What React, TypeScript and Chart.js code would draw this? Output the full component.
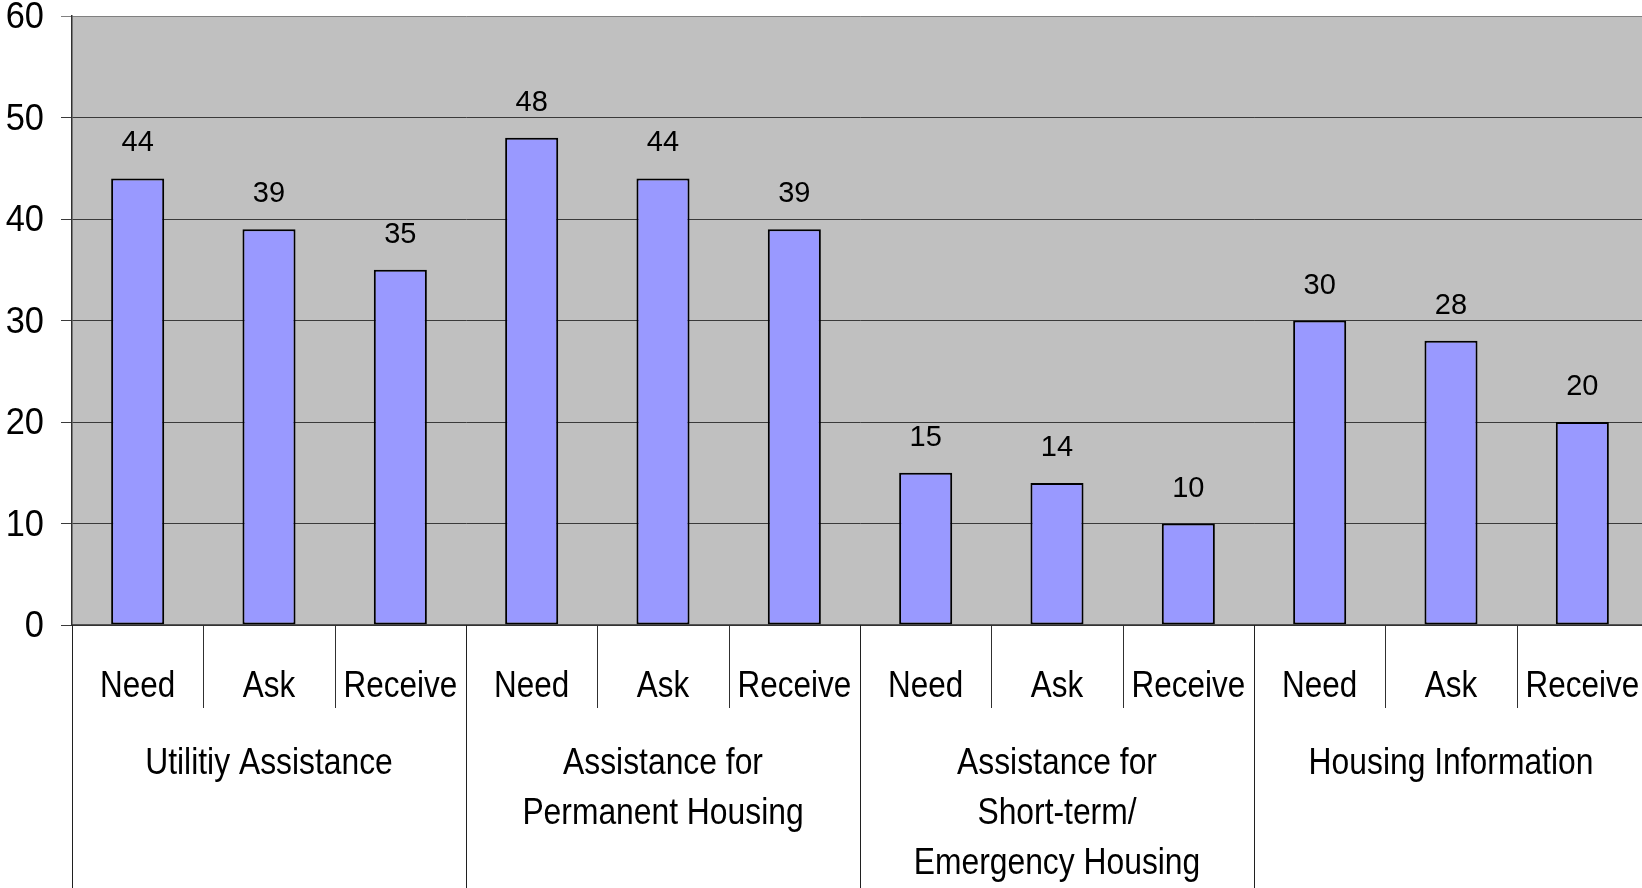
import React, { useEffect, useRef } from "react";
import { Chart, registerables } from "chart.js";

Chart.register(...registerables);

const categories = ["Need", "Ask", "Receive", "Need", "Ask", "Receive", "Need", "Ask", "Receive", "Need", "Ask", "Receive"];
const groups: string[][] = [
  ["Utilitiy Assistance"],
  ["Assistance for", "Permanent Housing"],
  ["Assistance for", "Short-term/", "Emergency Housing"],
  ["Housing Information"],
];
const values = [44, 39, 35, 48, 44, 39, 15, 14, 10, 30, 28, 20];
const yTicks = [0, 10, 20, 30, 40, 50, 60];

const REG = "'Liberation Sans', Arial, sans-serif";

function narrowText(ctx: any, t: string, x: number, y: number, sx: number) {
  ctx.save();
  ctx.translate(x, y);
  ctx.scale(sx, 1);
  ctx.fillText(t, 0, 0);
  ctx.restore();
}

const bgPlugin = {
  id: "plotBg",
  beforeDraw(chart: any) {
    const { ctx, chartArea } = chart;
    ctx.save();
    ctx.fillStyle = "#C0C0C0";
    ctx.fillRect(chartArea.left, chartArea.top, chartArea.right - chartArea.left, chartArea.bottom - chartArea.top);
    ctx.restore();
  },
};

const labelPlugin = {
  id: "labels",
  afterDatasetsDraw(chart: any) {
    const { ctx } = chart;
    const meta = chart.getDatasetMeta(0);
    ctx.save();
    ctx.fillStyle = "#000";
    ctx.font = `29px ${REG}`;
    ctx.textAlign = "center";
    ctx.textBaseline = "alphabetic";
    meta.data.forEach((bar: any, i: number) => {
      narrowText(ctx, String(values[i]), bar.x, bar.y - 27, 1.0);
    });
    ctx.restore();
  },
  afterDraw(chart: any) {
    const { ctx, chartArea } = chart;
    const x = chart.scales.x;
    const y = chart.scales.y;
    const bottom = chartArea.bottom;
    const step = x.getPixelForValue(1) - x.getPixelForValue(0);
    ctx.save();
    // y tick labels
    ctx.fillStyle = "#000";
    ctx.font = `37px ${REG}`;
    ctx.textAlign = "right";
    ctx.textBaseline = "middle";
    yTicks.forEach((v) => {
      narrowText(ctx, String(v), 44, y.getPixelForValue(v) + 2, 0.93);
    });
    // x axis line
    ctx.strokeStyle = "#303030";
    ctx.lineWidth = 1.5;
    ctx.beginPath();
    ctx.moveTo(chartArea.left, bottom);
    ctx.lineTo(chartArea.right, bottom);
    ctx.stroke();
    // separators
    ctx.lineWidth = 1;
    for (let i = 0; i <= categories.length; i++) {
      const bx = Math.round(x.getPixelForValue(0) - step / 2 + i * step) + 0.5;
      ctx.strokeStyle = i % 3 === 0 ? "#202020" : "#303030";
      ctx.beginPath();
      ctx.moveTo(bx, bottom);
      ctx.lineTo(bx, i % 3 === 0 ? chart.height : bottom + 83);
      ctx.stroke();
    }
    // category labels
    ctx.textAlign = "center";
    ctx.textBaseline = "alphabetic";
    ctx.font = `37px ${REG}`;
    categories.forEach((c, i) => {
      narrowText(ctx, c, x.getPixelForValue(i), bottom + 72, 0.85);
    });
    // group labels
    groups.forEach((lines, g) => {
      const cx = x.getPixelForValue(g * 3 + 1);
      lines.forEach((t, k) => {
        narrowText(ctx, t, cx, bottom + 149 + k * 50, 0.86);
      });
    });
    ctx.restore();
  },
};

export default function App() {
  const ref = useRef<HTMLCanvasElement | null>(null);
  useEffect(() => {
    if (!ref.current) return;
    const chart = new Chart(ref.current, {
      type: "bar",
      data: {
        labels: categories,
        datasets: [
          {
            data: values,
            backgroundColor: "#9999FF",
            borderColor: "#000000",
            borderWidth: 2,
            borderSkipped: false,
            categoryPercentage: 1,
            barPercentage: 0.404,
          },
        ],
      },
      options: {
        animation: false,
        responsive: false,
        devicePixelRatio: 1,
        layout: { padding: { top: 16, right: 2, bottom: 263, left: 0 } },
        plugins: { legend: { display: false }, tooltip: { enabled: false } },
        scales: {
          x: {
            display: false,
          },
          y: {
            min: 0,
            max: 60,
            afterBuildTicks: (s: any) => {
              s.ticks = yTicks.map((v) => ({ value: v }));
            },
            afterFit: (s: any) => {
              s.width = 72;
              s.paddingTop = 0;
              s.paddingBottom = 0;
            },
            grid: {
              color: (c: any) => (c.tick && c.tick.value === 60 ? "#808080" : "#3a3a3a"),
              lineWidth: 1,
              tickLength: 11,
              drawTicks: true,
            },
            border: { display: true, color: "#303030", width: 1.5 },
            ticks: {
              display: false,
            },
          },
        },
      },
      plugins: [bgPlugin, labelPlugin],
    });
    return () => chart.destroy();
  }, []);
  return (
    <div style={{ position: "fixed", left: 0, top: 0, width: 1642, height: 888, overflow: "hidden", background: "#fff" }}>
      <canvas ref={ref} width={1650} height={888} style={{ display: "block" }} />
    </div>
  );
}
